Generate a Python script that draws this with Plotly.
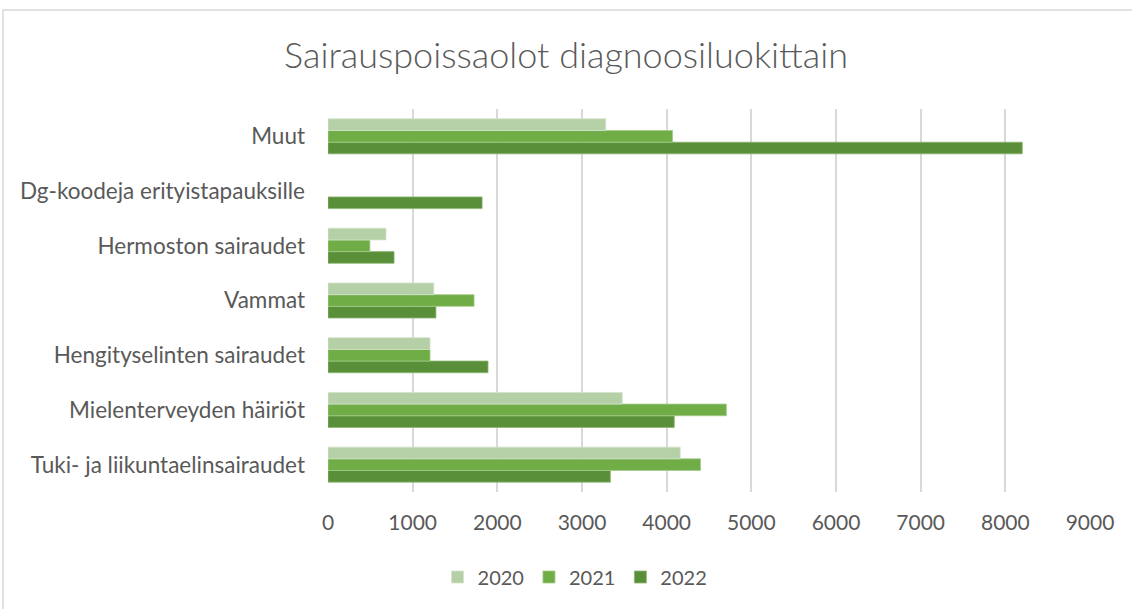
import plotly.graph_objects as go

categories = [
    "Tuki- ja liikuntaelinsairaudet",
    "Mielenterveyden häiriöt",
    "Hengityselinten sairaudet",
    "Vammat",
    "Hermoston sairaudet",
    "Dg-koodeja erityistapauksille",
    "Muut",
]
years = ["2020", "2021", "2022"]
v2020 = [4160, 3475, 1205, 1250, 685, None, 3280]
v2021 = [4400, 4705, 1205, 1725, 495, None, 4070]
v2022 = [3335, 4090, 1890, 1275, 780, 1820, 8200]
colors = {"2020": "#B5CFA6", "2021": "#70AD47", "2022": "#5A8F3A"}
line_colors = {"2020": "#D3E3CA", "2021": "#A3CB88", "2022": "#8DB673"}
tick_vals = [0, 1000, 2000, 3000, 4000, 5000, 6000, 7000, 8000, 9000]

series = {"2020": v2020, "2021": v2021, "2022": v2022}

fig = go.Figure()
for y in reversed(years):
    fig.add_trace(go.Bar(
        y=categories, x=series[y], name=y, orientation="h",
        marker=dict(color=colors[y], line=dict(color=line_colors[y], width=0.8)),
    ))

W, H = 1132, 609
ml, mr, mt, mb = 328, 42, 109, 117
pw, ph = W - ml - mr, H - mt - mb


def px_x(p):
    return (p - ml) / pw


def px_y(p):
    return (H - mb - p) / ph


fig.update_layout(
    width=W, height=H,
    margin=dict(l=ml, r=mr, t=mt, b=mb),
    paper_bgcolor="white", plot_bgcolor="white",
    font=dict(family="Lato", color="#595959"),
    barmode="group", bargap=0.36, bargroupgap=0,
    title=dict(text="Sairauspoissaolot diagnoosiluokittain", x=0.5, xref="container",
               y=1 - 55 / H, yref="container", xanchor="center", yanchor="middle",
               font=dict(size=36, color="#595959", family="Lato", weight=300)),
    xaxis=dict(range=[0, 9000], tickvals=tick_vals, showgrid=True, gridcolor="#D9D9D9",
               gridwidth=1.5, zeroline=False, showline=False, ticks="",
               tickfont=dict(size=21, color="#595959"), ticklabelstandoff=16),
    yaxis=dict(categoryorder="array", categoryarray=categories, showgrid=False,
               zeroline=False, showline=False, ticks="",
               tickfont=dict(size=22.5, color="#595959"), ticklabelstandoff=22),
    legend=dict(orientation="h", x=0.508, xref="container", xanchor="center",
                y=1 - 577 / H, yref="container", yanchor="middle",
                traceorder="reversed", font=dict(size=20, color="#595959"),
                itemwidth=30),
    showlegend=True,
)
fig.add_shape(type="rect", xref="paper", yref="paper",
              x0=px_x(3), x1=px_x(W + 10), y0=px_y(H + 10), y1=px_y(10),
              line=dict(color="#D9D9D9", width=1.5), fillcolor="rgba(0,0,0,0)", layer="below")
fig.write_html("out.html", config={"displayModeBar": False},
               post_script="document.body.style.margin='0';")
